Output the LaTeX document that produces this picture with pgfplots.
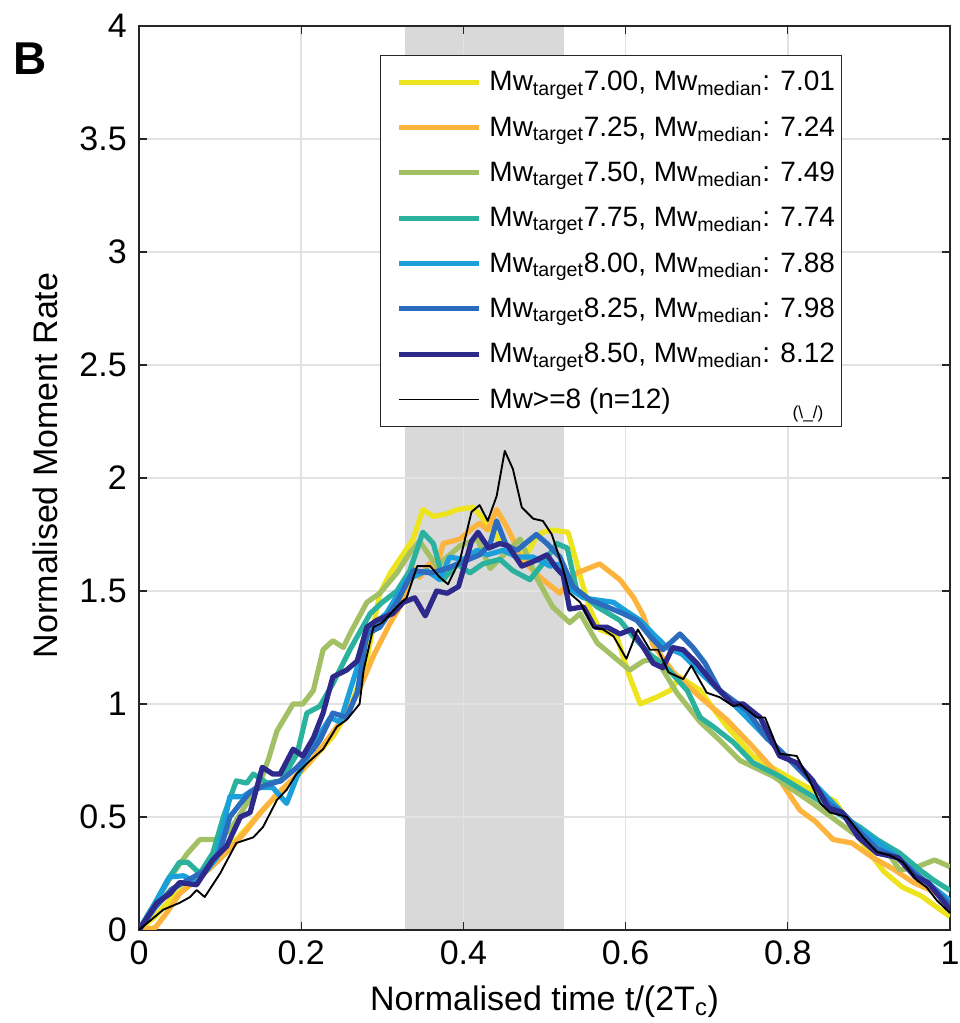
\documentclass[border=0pt]{standalone}
\usepackage{fontspec}
\setmainfont{Liberation Sans}
\usepackage{pgfplots}
\pgfplotsset{compat=1.18}
\definecolor{cyel}{RGB}{237,228,30}
\definecolor{cora}{RGB}{252,180,60}
\definecolor{cgrn}{RGB}{164,192,100}
\definecolor{ctea}{RGB}{43,178,158}
\definecolor{clbl}{RGB}{27,160,220}
\definecolor{cblu}{RGB}{43,108,190}
\definecolor{cnav}{RGB}{46,42,140}
\definecolor{axgray}{RGB}{38,38,38}
\definecolor{gridgray}{RGB}{226,226,226}
\definecolor{bandgray}{RGB}{217,217,217}
\begin{document}
\begin{tikzpicture}
\begin{axis}[
  name=ax,
  set layers,
  scale only axis, width=608.25pt, height=678pt,
  xmin=0, xmax=1, ymin=0, ymax=4,
  xtick={0,0.2,0.4,0.6,0.8,1},
  ytick={0,0.5,1,1.5,2,2.5,3,3.5,4},
  xticklabels={0,0.2,0.4,0.6,0.8,1},
  yticklabels={0,0.5,1,1.5,2,2.5,3,3.5,4},
  tick align=inside, major tick length=6pt,
  grid=major, grid style={color=gridgray, line width=1.2pt},
  axis line style={color=axgray, line width=1pt},
  tick style={color=axgray, line width=1pt},
  ticklabel style={font=\fontsize{25.5pt}{30pt}\selectfont, color=black},
  yticklabel style={inner sep=0pt, xshift=-9pt},
  xticklabel style={inner sep=0pt, yshift=-8pt},
  label style={font=\fontsize{25.5pt}{30pt}\selectfont},
  xlabel={Normalised time t/(2T\textsubscript{c})},
  ylabel={Normalised Moment Rate},
  xlabel style={at={(axis description cs:0.5,-0.0896)}, anchor=base, inner sep=0pt},
  ylabel style={at={(axis description cs:-0.1011,0.514)}, anchor=base, inner sep=0pt},
  legend cell align=left,
  legend image code/.code={\draw[#1, line cap=butt] (0pt,0pt) -- (60pt,0pt); \path (-6.75pt,0pt) (66pt,0pt);},
  legend style={at={(rel axis cs:0.2972,0.9679)}, anchor=north west, draw=axgray, line width=0.8pt, fill=white,
    font=\fontsize{21pt}{24pt}\selectfont, inner xsep=5pt, inner ysep=3pt, row sep=0pt,
    nodes={inner sep=0pt, minimum height=34pt}},
  every axis plot/.append style={line join=round},
]
\addplot[fill=bandgray, draw=none, on layer=axis background, forget plot] coordinates {(0.328,0) (0.524,0) (0.524,4) (0.328,4)} -- cycle;

\addplot[cyel, line width=3.9pt] coordinates {
(0,0) (0.02,0.06) (0.04,0.14) (0.06,0.2) (0.08,0.26) (0.1,0.32) (0.12,0.4) (0.14,0.48) (0.16,0.56) (0.18,0.63) (0.2,0.70) (0.22,0.78) (0.24,0.86) (0.26,0.98) (0.28,1.18) (0.297,1.49) (0.31,1.58) (0.325,1.66) (0.338,1.73) (0.35,1.86) (0.363,1.83) (0.378,1.84) (0.392,1.86) (0.412,1.87) (0.429,1.80) (0.445,1.72) (0.465,1.68) (0.478,1.66) (0.49,1.74) (0.498,1.76) (0.51,1.77) (0.529,1.76) (0.54,1.62) (0.546,1.54) (0.556,1.42) (0.568,1.33) (0.589,1.30) (0.605,1.12) (0.618,1.0) (0.638,1.03) (0.655,1.06) (0.667,1.12) (0.692,1.06) (0.708,0.98) (0.725,0.90) (0.757,0.77) (0.78,0.72) (0.799,0.68) (0.83,0.62) (0.858,0.57) (0.875,0.48) (0.897,0.36) (0.918,0.26) (0.941,0.19) (0.965,0.15) (0.98,0.11) (1.0,0.06)};
\addlegendentry{Mw\textsubscript{target}7.00, Mw\textsubscript{median}: 7.01}

\addplot[cora, line width=3.9pt] coordinates {
(0,0) (0.02,0.01) (0.035,0.08) (0.05,0.16) (0.07,0.22) (0.09,0.28) (0.11,0.35) (0.13,0.43) (0.15,0.52) (0.17,0.6) (0.19,0.67) (0.21,0.74) (0.23,0.83) (0.25,0.93) (0.27,1.05) (0.29,1.22) (0.31,1.36) (0.325,1.45) (0.338,1.60) (0.346,1.56) (0.358,1.62) (0.367,1.60) (0.375,1.71) (0.396,1.73) (0.412,1.78) (0.42,1.80) (0.43,1.77) (0.441,1.86) (0.454,1.78) (0.461,1.73) (0.47,1.65) (0.486,1.59) (0.498,1.55) (0.519,1.49) (0.54,1.58) (0.568,1.62) (0.593,1.55) (0.61,1.47) (0.622,1.39) (0.634,1.26) (0.659,1.14) (0.692,1.03) (0.725,0.93) (0.757,0.81) (0.782,0.71) (0.80,0.61) (0.815,0.53) (0.834,0.48) (0.856,0.40) (0.879,0.385) (0.905,0.32) (0.93,0.27) (0.955,0.21) (0.98,0.17) (1.0,0.12)};
\addlegendentry{Mw\textsubscript{target}7.25, Mw\textsubscript{median}: 7.24}

\addplot[cgrn, line width=3.9pt] coordinates {
(0,0) (0.02,0.12) (0.04,0.24) (0.06,0.34) (0.075,0.40) (0.096,0.40) (0.112,0.44) (0.133,0.56) (0.149,0.65) (0.16,0.76) (0.17,0.88) (0.19,1.0) (0.202,1.0) (0.215,1.06) (0.227,1.24) (0.239,1.28) (0.252,1.25) (0.26,1.31) (0.281,1.45) (0.297,1.49) (0.318,1.58) (0.334,1.67) (0.346,1.72) (0.367,1.61) (0.396,1.70) (0.417,1.73) (0.433,1.60) (0.45,1.66) (0.47,1.73) (0.49,1.56) (0.51,1.43) (0.531,1.36) (0.544,1.40) (0.565,1.27) (0.585,1.21) (0.605,1.15) (0.622,1.19) (0.638,1.20) (0.663,1.05) (0.692,0.92) (0.716,0.84) (0.741,0.75) (0.782,0.68) (0.831,0.56) (0.88,0.43) (0.922,0.35) (0.938,0.265) (0.96,0.28) (0.981,0.31) (1.0,0.28)};
\addlegendentry{Mw\textsubscript{target}7.50, Mw\textsubscript{median}: 7.49}

\addplot[ctea, line width=3.9pt] coordinates {
(0,0) (0.02,0.12) (0.035,0.22) (0.05,0.30) (0.06,0.30) (0.075,0.25) (0.091,0.34) (0.104,0.50) (0.12,0.66) (0.133,0.65) (0.141,0.69) (0.158,0.65) (0.175,0.66) (0.195,0.78) (0.207,0.96) (0.223,0.99) (0.239,1.09) (0.26,1.24) (0.285,1.40) (0.30,1.45) (0.318,1.50) (0.334,1.59) (0.35,1.76) (0.363,1.71) (0.375,1.55) (0.392,1.62) (0.408,1.58) (0.424,1.62) (0.445,1.64) (0.461,1.59) (0.482,1.55) (0.50,1.63) (0.515,1.71) (0.528,1.69) (0.54,1.50) (0.552,1.47) (0.565,1.43) (0.593,1.37) (0.609,1.30) (0.63,1.22) (0.651,1.16) (0.676,1.06) (0.692,0.94) (0.708,0.90) (0.733,0.83) (0.757,0.74) (0.79,0.68) (0.831,0.59) (0.86,0.52) (0.889,0.455) (0.91,0.40) (0.938,0.34) (0.963,0.265) (0.98,0.22) (1.0,0.175)};
\addlegendentry{Mw\textsubscript{target}7.75, Mw\textsubscript{median}: 7.74}

\addplot[clbl, line width=3.9pt] coordinates {
(0,0) (0.02,0.12) (0.038,0.235) (0.055,0.24) (0.071,0.21) (0.096,0.32) (0.112,0.59) (0.128,0.59) (0.145,0.63) (0.165,0.63) (0.182,0.56) (0.195,0.68) (0.22,0.85) (0.236,0.94) (0.248,0.92) (0.269,1.16) (0.285,1.34) (0.305,1.40) (0.33,1.55) (0.355,1.59) (0.371,1.55) (0.383,1.65) (0.40,1.64) (0.417,1.68) (0.429,1.66) (0.449,1.68) (0.466,1.65) (0.486,1.65) (0.507,1.61) (0.52,1.62) (0.535,1.50) (0.548,1.47) (0.565,1.46) (0.585,1.45) (0.601,1.41) (0.618,1.37) (0.634,1.31) (0.651,1.25) (0.67,1.22) (0.692,1.14) (0.733,1.0) (0.774,0.85) (0.806,0.74) (0.84,0.62) (0.88,0.47) (0.926,0.35) (0.963,0.235) (1.0,0.13)};
\addlegendentry{Mw\textsubscript{target}8.00, Mw\textsubscript{median}: 7.88}

\addplot[cblu, line width=3.9pt] coordinates {
(0,0) (0.02,0.1) (0.04,0.18) (0.06,0.22) (0.08,0.26) (0.1,0.35) (0.112,0.50) (0.125,0.56) (0.137,0.61) (0.155,0.64) (0.175,0.66) (0.195,0.72) (0.215,0.80) (0.223,0.84) (0.239,0.96) (0.256,0.94) (0.269,1.05) (0.281,1.31) (0.297,1.34) (0.318,1.45) (0.338,1.59) (0.36,1.58) (0.38,1.60) (0.40,1.63) (0.42,1.66) (0.433,1.71) (0.441,1.81) (0.453,1.70) (0.466,1.68) (0.49,1.75) (0.503,1.71) (0.519,1.65) (0.535,1.52) (0.556,1.46) (0.577,1.43) (0.597,1.40) (0.614,1.37) (0.63,1.30) (0.646,1.24) (0.667,1.31) (0.683,1.25) (0.698,1.18) (0.716,1.06) (0.75,0.97) (0.774,0.85) (0.806,0.74) (0.831,0.65) (0.85,0.56) (0.87,0.51) (0.89,0.43) (0.91,0.36) (0.935,0.32) (0.957,0.25) (0.975,0.20) (1.0,0.11)};
\addlegendentry{Mw\textsubscript{target}8.25, Mw\textsubscript{median}: 7.98}

\addplot[cnav, line width=3.9pt] coordinates {
(0,0) (0.022,0.12) (0.038,0.16) (0.05,0.21) (0.071,0.2) (0.091,0.31) (0.108,0.37) (0.125,0.50) (0.137,0.52) (0.152,0.72) (0.165,0.69) (0.174,0.69) (0.19,0.80) (0.202,0.77) (0.215,0.85) (0.227,0.96) (0.239,1.12) (0.256,1.15) (0.269,1.19) (0.281,1.34) (0.293,1.37) (0.313,1.40) (0.326,1.45) (0.34,1.47) (0.353,1.39) (0.367,1.50) (0.38,1.49) (0.394,1.52) (0.41,1.72) (0.418,1.76) (0.431,1.69) (0.445,1.71) (0.455,1.70) (0.472,1.61) (0.486,1.63) (0.503,1.66) (0.515,1.60) (0.523,1.57) (0.531,1.42) (0.548,1.43) (0.562,1.34) (0.577,1.34) (0.593,1.31) (0.607,1.33) (0.622,1.25) (0.634,1.18) (0.646,1.16) (0.658,1.25) (0.671,1.24) (0.688,1.18) (0.708,1.09) (0.732,1.0) (0.745,1.0) (0.766,0.94) (0.79,0.77) (0.811,0.74) (0.831,0.66) (0.85,0.54) (0.867,0.52) (0.887,0.41) (0.91,0.34) (0.936,0.32) (0.957,0.235) (0.973,0.21) (1.0,0.09)};
\addlegendentry{Mw\textsubscript{target}8.50, Mw\textsubscript{median}: 8.12}

\addplot[black, line width=1.4pt] coordinates {
(0,0) (0.03,0.09) (0.05,0.12) (0.063,0.146) (0.071,0.177) (0.081,0.146) (0.1,0.25) (0.12,0.385) (0.141,0.41) (0.153,0.456) (0.17,0.575) (0.182,0.62) (0.194,0.69) (0.211,0.75) (0.227,0.80) (0.244,0.90) (0.256,0.93) (0.272,1.0) (0.277,1.15) (0.289,1.34) (0.30,1.36) (0.318,1.43) (0.33,1.47) (0.343,1.61) (0.359,1.61) (0.371,1.56) (0.381,1.53) (0.396,1.64) (0.41,1.85) (0.42,1.88) (0.43,1.81) (0.441,1.92) (0.451,2.12) (0.461,2.04) (0.472,1.87) (0.486,1.82) (0.498,1.81) (0.509,1.75) (0.521,1.62) (0.531,1.49) (0.544,1.45) (0.56,1.34) (0.572,1.33) (0.585,1.30) (0.601,1.20) (0.615,1.33) (0.63,1.24) (0.64,1.24) (0.653,1.14) (0.671,1.11) (0.681,1.17) (0.70,1.05) (0.716,1.03) (0.733,0.99) (0.741,1.0) (0.762,0.94) (0.772,0.94) (0.79,0.78) (0.811,0.77) (0.827,0.66) (0.84,0.56) (0.852,0.52) (0.873,0.50) (0.893,0.41) (0.91,0.345) (0.926,0.33) (0.942,0.30) (0.959,0.22) (0.971,0.19) (0.984,0.13) (1.0,0.075)};
\addlegendentry{Mw>=8 (n=12)}

\begin{pgfonlayer}{axis foreground}
\node[font=\fontsize{13pt}{14pt}\selectfont, inner sep=0pt] at (axis cs:0.825,2.285) {(\textbackslash\_/)};
\end{pgfonlayer}
\end{axis}
\node[anchor=base west, inner sep=0pt, font=\bfseries\fontsize{34.5pt}{40pt}\selectfont] at ([xshift=-94.5pt,yshift=641.25pt]ax.south west) {B};
\pgfresetboundingbox
\path ([xshift=-104.25pt,yshift=-69.75pt]ax.south west) rectangle ([xshift=615pt,yshift=697.5pt]ax.south west);
\end{tikzpicture}
\end{document}
